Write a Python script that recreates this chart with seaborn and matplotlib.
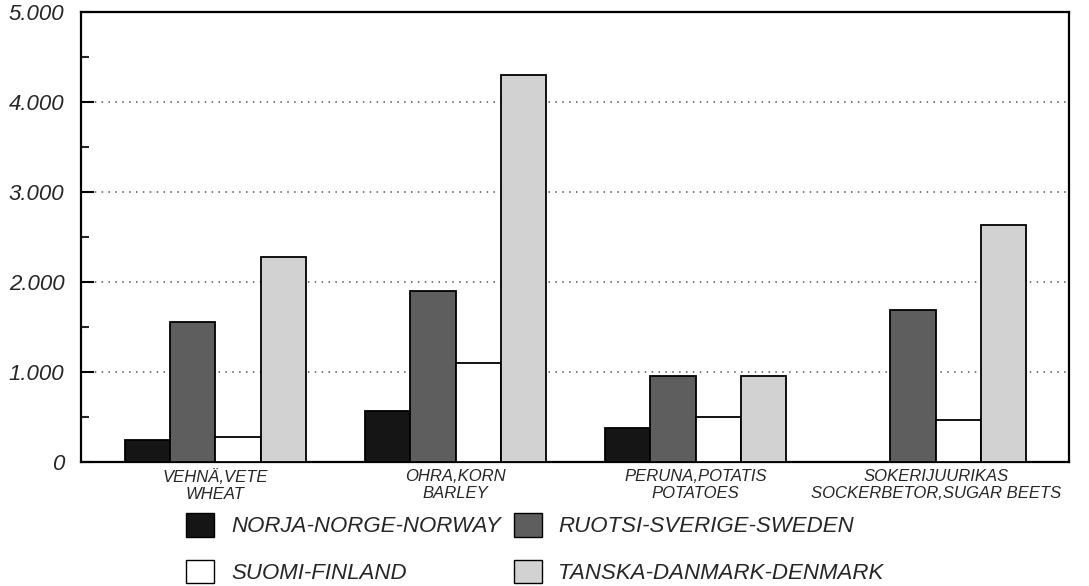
import matplotlib
matplotlib.use("Agg")
import matplotlib.pyplot as plt
from matplotlib.patches import Patch
from matplotlib.ticker import MultipleLocator, FuncFormatter
import numpy as np
import pandas as pd
import seaborn as sns

# Crops (x categories) and countries (hue)
crops = [
    "VEHNÄ,VETE\nWHEAT",
    "OHRA,KORN\nBARLEY",
    "PERUNA,POTATIS\nPOTATOES",
    "SOKERIJUURIKAS\nSOCKERBETOR,SUGAR BEETS",
]
countries = [
    "NORJA-NORGE-NORWAY",
    "RUOTSI-SVERIGE-SWEDEN",
    "SUOMI-FINLAND",
    "TANSKA-DANMARK-DENMARK",
]

# values, per country across crops
norway = [245, 570, 380, np.nan]
sweden = [1555, 1900, 960, 1690]
finland = [280, 1100, 500, 470]
denmark = [2280, 4300, 960, 2630]

colors = ["#151515", "#5e5e5e", "#ffffff", "#d2d2d2"]

rows = []
for country, vals in zip(countries, [norway, sweden, finland, denmark]):
    for crop, v in zip(crops, vals):
        rows.append({"crop": crop, "country": country, "value": v})
df = pd.DataFrame(rows)

sns.set_theme(style="white")
plt.rcParams["font.family"] = ["Liberation Sans", "DejaVu Sans"]
plt.rcParams["font.style"] = "italic"

fig = plt.figure(figsize=(10.89, 5.86), dpi=100)
ax = fig.add_axes([81 / 1089, 1 - 462 / 586, 988 / 1089, 450 / 586])

sns.barplot(
    data=df,
    x="crop",
    y="value",
    hue="country",
    order=crops,
    hue_order=countries,
    palette=colors,
    width=0.755,
    edgecolor="black",
    linewidth=1.3,
    saturation=1,
    legend=False,
    ax=ax,
    zorder=3,
)

ax.set_xlim(-0.56, 3.555)
ax.set_ylim(0, 5000)
ax.set_xlabel("")
ax.set_ylabel("")

ax.yaxis.set_major_locator(MultipleLocator(1000))
ax.yaxis.set_minor_locator(MultipleLocator(500))
ax.yaxis.set_major_formatter(
    FuncFormatter(lambda v, p: "0" if v == 0 else f"{int(v) // 1000}.000")
)
ax.tick_params(axis="y", which="major", direction="in", length=9.5, width=1.5,
               left=True, right=False, pad=12, labelsize=16, color="black")
ax.tick_params(axis="y", which="minor", direction="in", length=5.5, width=1.5,
               left=True, right=False)
ax.tick_params(axis="x", length=0, pad=5, labelsize=12)
for lab in ax.get_xticklabels():
    lab.set_linespacing(1.15)

ax.grid(axis="y", which="major", color="#555555", linestyle=(0, (1, 3.5)),
        linewidth=1.1)
ax.grid(axis="x", visible=False)
ax.set_axisbelow(True)

for s in ax.spines.values():
    s.set_visible(True)
    s.set_color("black")
    s.set_linewidth(1.6)

handles = [Patch(facecolor=c, edgecolor="black", linewidth=1.0) for c in colors]
order = [0, 2, 1, 3]
fig.legend(
    [handles[i] for i in order],
    [countries[i] for i in order],
    loc="upper left",
    bbox_to_anchor=(186 / 1089, 1 - 513 / 586),
    ncol=2,
    frameon=False,
    fontsize=16,
    handlelength=1.26,
    handleheight=1.26,
    handletextpad=0.76,
    columnspacing=0.58,
    labelspacing=1.0,
    borderpad=0,
    borderaxespad=0,
)

fig.savefig("out.png", dpi=100, facecolor="white")
